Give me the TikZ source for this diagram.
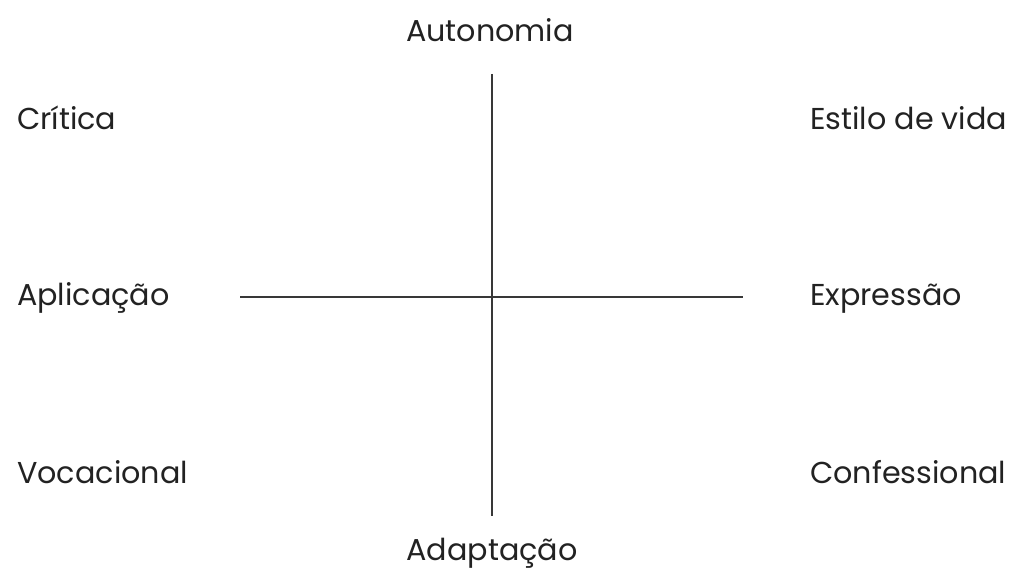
\documentclass[tikz,border=0pt]{standalone}
\usepackage{fontspec}
\setmainfont[Ligatures=NoCommon]{Poppins}
\usepackage{xcolor}
\usepackage{tikz}
\usetikzlibrary{positioning}

\definecolor{inkgray}{HTML}{222222}

\begin{document}
\begin{tikzpicture}[
  x=1pt, y=-1pt,
  lbl/.style={inner sep=0pt, anchor=base west, text=inkgray, font=\fontsize{30.2}{35}\selectfont},
  axis/.style={draw=inkgray!90, line width=2pt}
]
  \useasboundingbox (0,0) rectangle (1020,572);

  \coordinate (top) at (492,74);
  \coordinate (bot) at (492,516);
  \coordinate (lft) at (240,297);
  \coordinate (rgt) at (743,297);

  \node[lbl, anchor=base] (auto) at (490,42) {Autonomia};
  \node[lbl, anchor=base] (adap) at (492,560) {Adaptação};
  \node[lbl] (crit) at (17,130) {Crítica};
  \node[lbl] (apli) at (17,305) {Aplicação};
  \node[lbl] (voca) at (17,483) {Vocacional};
  \node[lbl] (esti) at (810,130) {Estilo de vida};
  \node[lbl] (expr) at (810,305) {Expressão};
  \node[lbl] (conf) at (810,483) {Confessional};

  \draw[axis] (top) -- (bot);
  \draw[axis] (lft) -- (rgt);
\end{tikzpicture}
\end{document}
